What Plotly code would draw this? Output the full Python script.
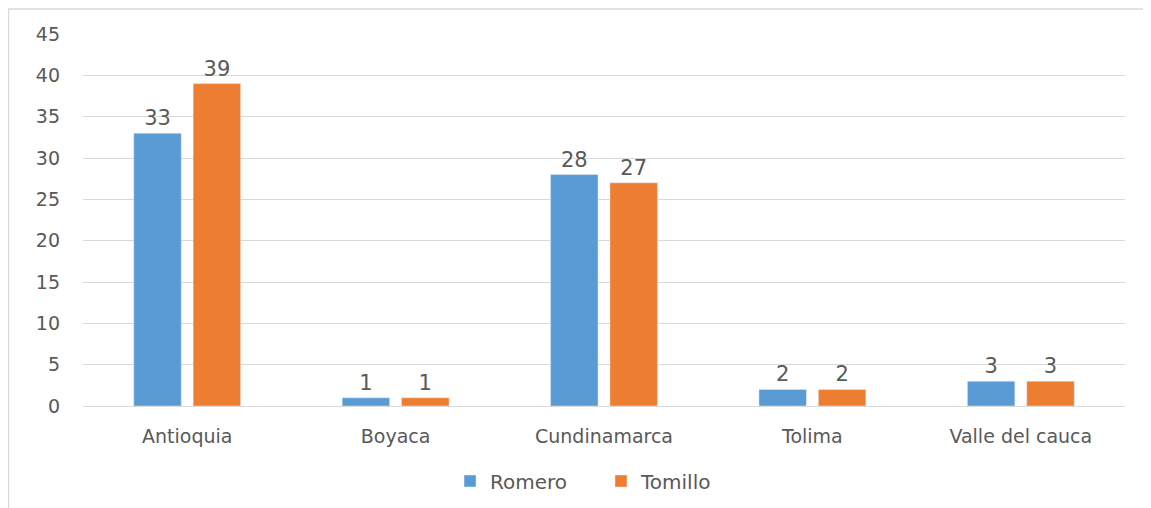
import plotly.graph_objects as go

departments = ["Antioquia", "Boyaca", "Cundinamarca", "Tolima", "Valle del cauca"]
romero = [33, 1, 28, 2, 3]
tomillo = [39, 1, 27, 2, 3]
y_ticks = [0, 5, 10, 15, 20, 25, 30, 35, 40, 45]

# page has an 8px body margin, so the figure sits at (8, 8)
OFF = 8
W, H = 1151 - OFF, 508 - OFF
L, R, T, B = 83 - OFF, 26, 34 - OFF, 102
pw, ph = W - L - R, H - T - B


def px_to_paper(x, y):
    # x, y in page pixels
    return (x - OFF - L) / pw, (H - B - (y - OFF)) / ph


FONT = "DejaVu Sans"
GREY = "#595959"

fig = go.Figure()
fig.add_trace(go.Bar(
    name="Romero", x=departments, y=romero, marker_color="#5B9BD5",
    text=romero, textposition="outside", cliponaxis=False,
    textfont=dict(size=21, color=GREY),
))
fig.add_trace(go.Bar(
    name="Tomillo", x=departments, y=tomillo, marker_color="#ED7D31",
    text=tomillo, textposition="outside", cliponaxis=False,
    textfont=dict(size=21, color=GREY),
))

# outer chart border (left + top visible)
x0, y0 = px_to_paper(8.5, 9)
x1, y1 = px_to_paper(1170, 520)
fig.add_shape(type="rect", xref="paper", yref="paper", x0=x0, y0=y1, x1=x1, y1=y0,
              line=dict(color="#D9D9D9", width=1.5), layer="below")

fig.update_layout(
    width=W, height=H,
    margin=dict(l=L, r=R, t=T, b=B, autoexpand=False),
    barmode="group", bargap=0.43, bargroupgap=0.2,
    paper_bgcolor="white", plot_bgcolor="white",
    font=dict(family=FONT, color=GREY, size=19),
    showlegend=True,
    legend=dict(orientation="h", x=px_to_paper(450, 0)[0], xanchor="left",
                y=px_to_paper(0, 481)[1], yanchor="middle",
                font=dict(size=20, color=GREY),
                itemwidth=30, tracegroupgap=0, entrywidth=106, entrywidthmode="pixels"),
    xaxis=dict(showgrid=False, showline=False, ticks="", tickfont=dict(size=19),
               ticklabelstandoff=17),
    yaxis=dict(range=[0, 45], tickvals=y_ticks, showgrid=True, gridcolor="#D9D9D9",
               gridwidth=1, zeroline=True, zerolinecolor="#D9D9D9", zerolinewidth=1,
               ticks="", tickfont=dict(size=19), ticklabelstandoff=22),
)

fig.write_html("out.html")
